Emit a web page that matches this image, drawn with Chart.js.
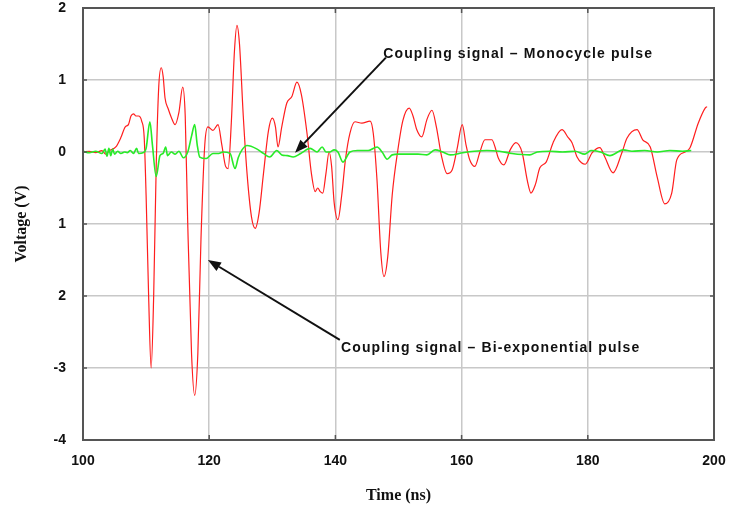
<!DOCTYPE html>
<html>
<head>
<meta charset="utf-8">
<script src="https://cdn.jsdelivr.net/npm/chart.js@4.4.1/dist/chart.umd.min.js"></script>
<style>
  html, body { margin: 0; padding: 0; background: #fff; }
  canvas { display: block; }
</style>
</head>
<body>
<canvas id="chart" width="729" height="506"></canvas>
<script>
// time (ns) / voltage (V)
const redTime = [100.0, 101.0, 102.0, 103.0, 103.6, 104.2, 105.2, 106.0, 106.7, 107.2, 107.6, 108.0, 108.4, 108.8, 109.3, 109.7,
  110.0, 110.4, 110.8, 111.2, 111.6, 112.0, 112.4, 112.7, 113.0, 113.5, 114.0, 114.6, 115.2, 115.8, 116.2, 116.6, 117.2, 117.7,
  118.2, 118.7, 119.3, 119.8, 120.6, 121.4, 122.0, 122.6, 123.0, 123.5, 124.0, 124.4, 124.8, 125.4, 126.0, 126.7, 127.3, 127.9,
  128.6, 129.4, 130.0, 130.5, 130.9, 131.5, 132.3, 133.1, 133.9, 134.6, 135.5, 136.2, 136.8, 137.2, 137.6, 138.0, 138.5, 139.0,
  139.4, 139.8, 140.4, 141.0, 141.6, 142.3, 143.1, 144.2, 145.5, 146.0, 146.6, 147.2, 147.7, 148.3, 149.0, 149.9, 150.7, 151.7,
  152.3, 152.9, 153.7, 154.5, 155.3, 156.0, 156.8, 157.7, 158.5, 159.3, 160.1, 160.7, 161.3, 162.1, 162.9, 163.7, 164.8, 165.3,
  165.8, 166.7, 167.7, 168.6, 169.6, 170.4, 171.0, 171.7, 172.4, 173.4, 174.5, 175.9, 176.9, 177.5, 178.3, 179.0, 179.6, 180.7,
  181.9, 182.7, 184.0, 185.4, 186.2, 187.8, 188.7, 189.9, 191.0, 192.2, 193.3, 194.1, 195.4, 196.2, 197.5, 198.6, 198.9];
const redVolt = [0.0, 0.01, -0.01, 0.02, -0.03, 0.02, 0.07, 0.2, 0.35, 0.38, 0.5, 0.53, 0.5, 0.5, 0.43, 0.2,
  -0.6, -2.0, -3.0, -2.0, -0.2, 0.9, 1.17, 1.05, 0.75, 0.6, 0.48, 0.38, 0.55, 0.9, 0.5, -1.0, -2.8, -3.38,
  -2.8, -1.2, 0.1, 0.35, 0.3, 0.38, 0.1, -0.2, -0.23, 0.4, 1.4, 1.76, 1.5, 0.5, -0.3, -0.9, -1.06, -0.85,
  -0.3, 0.3, 0.47, 0.35, 0.07, 0.35, 0.68, 0.77, 0.97, 0.8, 0.26, -0.3, -0.55, -0.5, -0.55, -0.57, -0.3, 0.0,
  -0.2, -0.7, -0.94, -0.6, -0.1, 0.26, 0.42, 0.4, 0.43, 0.26, -0.4, -1.4, -1.73, -1.45, -0.6, 0.03, 0.44, 0.61,
  0.5, 0.31, 0.21, 0.45, 0.58, 0.35, -0.05, -0.3, -0.25, 0.05, 0.38, 0.1, -0.11, -0.2, 0.0, 0.17, 0.17, 0.07,
  -0.08, -0.18, 0.03, 0.13, -0.01, -0.39, -0.57, -0.45, -0.22, -0.14, 0.13, 0.31, 0.2, 0.13, -0.07, -0.15, -0.17, -0.01,
  0.06, -0.07, -0.29, -0.01, 0.19, 0.31, 0.17, 0.07, -0.35, -0.72, -0.57, -0.11, 0.0, 0.06, 0.4, 0.61, 0.63];

const greenTime = [100.0, 101.0, 102.0, 103.0, 103.5, 103.8, 104.1, 104.4, 104.7, 105.0, 105.5, 106.0, 106.6, 107.0, 107.5,
  108.0, 108.5, 108.8, 109.5, 110.0, 110.6, 111.0, 111.6, 112.2, 112.7, 113.1, 113.4, 114.0, 114.6, 115.2, 115.9, 116.6,
  117.2, 117.7, 118.1, 118.5, 119.5, 120.6, 121.5, 122.2, 123.3, 124.1, 124.6, 125.2, 126.0, 127.6, 128.6, 129.6, 130.7,
  131.5, 132.4, 133.3, 134.5, 136.0, 137.1, 137.9, 138.5, 139.1, 139.8, 140.4, 141.2, 142.3, 143.5, 145.2, 146.6, 147.4,
  148.2, 149.0, 150.0, 153.1, 154.5, 155.8, 157.0, 158.2, 160.2, 162.0, 164.0, 166.0, 168.0, 170.8, 172.0, 174.0, 176.0,
  178.0, 179.5, 180.5, 182.0, 183.5, 185.6, 187.0, 189.0, 191.0, 193.0, 195.0, 196.4];
const greenVolt = [0.01, -0.01, 0.01, -0.02, 0.04, -0.06, 0.05, -0.05, 0.04, -0.03, 0.01, -0.02, 0.0, -0.01, 0.02,
  -0.02, 0.05, -0.02, -0.01, 0.05, 0.42, 0.1, -0.34, -0.05, -0.02, 0.07, -0.05, 0.0, -0.03, 0.01, -0.08, 0.0,
  0.22, 0.38, 0.1, -0.07, -0.09, -0.02, -0.02, 0.0, -0.02, -0.23, -0.08, 0.03, 0.09, 0.04, -0.02, -0.07, 0.02,
  -0.04, -0.05, -0.07, -0.02, 0.05, 0.0, 0.07, 0.0, 0.0, 0.03, 0.0, -0.14, 0.0, 0.02, 0.02, 0.07, 0.0,
  -0.1, -0.04, -0.03, -0.03, -0.04, 0.03, 0.0, -0.04, -0.01, 0.01, 0.02, 0.01, -0.02, -0.04, 0.0, 0.01, 0.0,
  0.01, -0.03, 0.02, 0.0, -0.05, 0.03, 0.01, 0.02, 0.0, 0.02, 0.01, 0.02];

// tick labels as printed on the original (minus signs missing on -1 / -2)
const yTickValues = [2, 1, 0, -1, -2, -3, -4];
const yTickLabels = ["2", "1", "0", "1", "2", "-3", "-4"];
const xTickLabels = ["100", "120", "140", "160", "180", "200"];

// callout texts, anchored in data units
const notes = [
  { text: "Coupling signal \u2013 Monocycle pulse", tx: 147.6, ty: 1.36, fromX: 148.0, fromY: 1.31, toX: 133.6, toY: -0.01 },
  { text: "Coupling signal \u2013 Bi-exponential pulse", tx: 140.9, ty: -2.73, fromX: 140.7, fromY: -2.61, toX: 119.8, toY: -1.5 }
];

function pairs(xs, ys) {
  let out = [];
  for (let i = 0; i < xs.length; i++) out.push({ x: xs[i], y: ys[i] });
  return out;
}

function noEdgePadding(s) {
  s.paddingTop = 0;
  s.paddingBottom = 0;
  s.paddingLeft = 0;
  s.paddingRight = 0;
}

const framePlugin = {
  id: "frame",
  afterDatasetsDraw(chart) {
    const ctx = chart.ctx;
    const a = chart.chartArea;
    const xs = chart.scales.x, ys = chart.scales.y;
    ctx.save();
    ctx.strokeStyle = "#555";
    ctx.lineWidth = 2;
    ctx.strokeRect(a.left, a.top, a.right - a.left, a.bottom - a.top);
    // small inner tick marks
    ctx.lineWidth = 1.5;
    ctx.beginPath();
    for (let t of xs.ticks) {
      const px = xs.getPixelForValue(t.value);
      ctx.moveTo(px, a.bottom); ctx.lineTo(px, a.bottom - 5);
      ctx.moveTo(px, a.top); ctx.lineTo(px, a.top + 5);
    }
    for (let t of ys.ticks) {
      const py = ys.getPixelForValue(t.value);
      ctx.moveTo(a.left, py); ctx.lineTo(a.left + 4, py);
      ctx.moveTo(a.right, py); ctx.lineTo(a.right - 4, py);
    }
    ctx.stroke();

    // callouts
    ctx.fillStyle = "#111";
    ctx.strokeStyle = "#111";
    ctx.font = "bold 14px 'Liberation Sans', Arial, sans-serif";
    ctx.letterSpacing = "1.1px";
    ctx.textBaseline = "middle";
    ctx.textAlign = "left";
    for (let n of notes) {
      const x1 = xs.getPixelForValue(n.fromX), y1 = ys.getPixelForValue(n.fromY);
      const x2 = xs.getPixelForValue(n.toX), y2 = ys.getPixelForValue(n.toY);
      const ang = Math.atan2(y2 - y1, x2 - x1);
      const head = 13, wing = 5;
      const bx = x2 - head * Math.cos(ang), by = y2 - head * Math.sin(ang);
      ctx.lineWidth = 2;
      ctx.beginPath();
      ctx.moveTo(x1, y1); ctx.lineTo(bx, by);
      ctx.stroke();
      ctx.beginPath();
      ctx.moveTo(x2, y2);
      ctx.lineTo(bx + wing * Math.sin(ang), by - wing * Math.cos(ang));
      ctx.lineTo(bx - wing * Math.sin(ang), by + wing * Math.cos(ang));
      ctx.closePath();
      ctx.fill();
      ctx.fillText(n.text, xs.getPixelForValue(n.tx), ys.getPixelForValue(n.ty));
    }
    ctx.restore();
  }
};

const tickFont = { family: "'Liberation Sans', Arial, sans-serif", size: 14, weight: "bold" };
const titleFont = { family: "'Liberation Serif', 'Times New Roman', serif", size: 16, weight: "bold" };
const gridColor = "rgb(200,200,200)";

new Chart(document.getElementById("chart").getContext("2d"), {
  type: "line",
  data: {
    datasets: [
      {
        label: "Coupling signal - Monocycle pulse",
        data: pairs(greenTime, greenVolt),
        borderColor: "rgb(40,235,40)",
        borderWidth: 1.6,
        pointRadius: 0,
        cubicInterpolationMode: "monotone",
        order: 0
      },
      {
        label: "Coupling signal - Bi-exponential pulse",
        data: pairs(redTime, redVolt),
        borderColor: "rgb(255,30,30)",
        borderWidth: 1.2,
        pointRadius: 0,
        cubicInterpolationMode: "monotone",
        order: 1
      }
    ]
  },
  options: {
    responsive: false,
    animation: false,
    layout: { padding: { top: 8, right: 15, left: 0, bottom: 0 } },
    plugins: { legend: { display: false }, tooltip: { enabled: false } },
    scales: {
      x: {
        type: "linear",
        min: 100,
        max: 200,
        afterBuildTicks: s => { s.ticks = xTickLabels.map(v => ({ value: Number(v) })); },
        ticks: { font: tickFont, color: "#111", padding: 13, maxRotation: 0, callback: v => String(v) },
        grid: { color: gridColor, lineWidth: 1.5, drawTicks: false },
        border: { display: false },
        title: { display: true, text: "Time (ns)", font: titleFont, color: "#111", padding: { top: 14, bottom: 1 } },
        afterFit: s => { s.height = 66; noEdgePadding(s); }
      },
      y: {
        type: "linear",
        min: -4,
        max: 2,
        afterBuildTicks: s => { s.ticks = yTickValues.map(v => ({ value: v })); },
        ticks: {
          font: tickFont, color: "#111", padding: 17,
          callback: v => yTickLabels[yTickValues.indexOf(v)]
        },
        grid: { color: gridColor, lineWidth: 1.5, drawTicks: false },
        border: { display: false },
        title: { display: true, text: "Voltage (V)", font: titleFont, color: "#111", padding: { top: 12, bottom: 4 } },
        afterFit: s => { s.width = 83; noEdgePadding(s); }
      }
    }
  },
  plugins: [framePlugin]
});
</script>
</body>
</html>
